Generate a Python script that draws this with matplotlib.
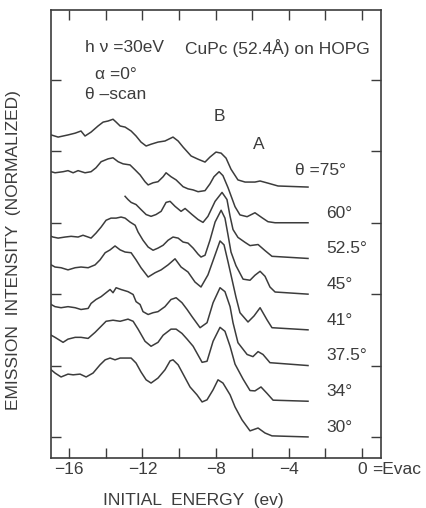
import matplotlib
matplotlib.use("Agg")
import matplotlib.pyplot as plt
from matplotlib.ticker import MultipleLocator, FixedLocator, NullFormatter

plt.rcParams['font.family'] = ['Liberation Sans', 'DejaVu Sans']

# Angle-resolved UPS spectra of CuPc on HOPG (theta scan), normalized intensities
angles = ["75", "60", "52.5", "45", "41", "37.5", "34", "30"]
offsets = [7, 6, 5, 4, 3, 2, 1, 0]

e75 = [-16.99, -16.61, -16.07, -15.68, -15.36, -15.14, -14.81, -14.43, -14.15, -13.88,
       -13.61, -13.44, -13.22, -12.95, -12.62, -12.35, -12.08, -11.80, -11.53, -11.15,
       -10.77, -10.33, -10.05, -9.78, -9.34, -8.96, -8.58, -8.31, -7.98, -7.70,
       -7.43, -7.16, -6.78, -6.39, -5.85, -5.57, -5.14, -4.59, -2.95]
i75 = [1.46, 1.40, 1.46, 1.51, 1.57, 1.43, 1.54, 1.71, 1.82, 1.85,
       1.90, 1.82, 1.71, 1.68, 1.57, 1.43, 1.26, 1.15, 1.20, 1.26,
       1.29, 1.40, 1.29, 1.12, 0.87, 0.78, 0.70, 0.84, 0.98, 0.95,
       0.81, 0.50, 0.20, 0.14, 0.14, 0.17, 0.11, 0.03, 0.00]

e60 = [-16.99, -16.78, -16.34, -16.07, -15.79, -15.52, -15.14, -14.81, -14.54, -14.26,
       -13.88, -13.61, -13.33, -13.06, -12.68, -12.40, -12.13, -11.86, -11.69, -11.42,
       -11.15, -10.87, -10.71, -10.44, -10.16, -9.78, -9.51, -9.23, -8.96, -8.58,
       -8.31, -8.09, -7.81, -7.60, -7.32, -6.94, -6.67, -6.28, -5.85, -5.46,
       -5.14, -4.75, -2.95]
i60 = [1.43, 1.40, 1.43, 1.46, 1.40, 1.46, 1.40, 1.43, 1.54, 1.71,
       1.79, 1.82, 1.71, 1.65, 1.62, 1.48, 1.34, 1.15, 1.06, 1.12,
       1.15, 1.29, 1.40, 1.29, 1.20, 1.01, 0.95, 0.92, 0.87, 0.90,
       1.09, 1.29, 1.43, 1.32, 0.98, 0.45, 0.22, 0.17, 0.28, 0.14,
       0.03, 0.00, 0.00]

e52 = [-12.95, -12.79, -12.62, -12.35, -12.08, -11.80, -11.53, -11.26, -10.98, -10.71,
       -10.49, -10.22, -9.89, -9.67, -9.29, -8.96, -8.69, -8.42, -8.03, -7.65,
       -7.38, -7.21, -7.05, -6.78, -6.39, -6.12, -5.68, -5.30, -4.92, -2.95]
i52 = [1.74, 1.65, 1.57, 1.51, 1.37, 1.23, 1.18, 1.23, 1.32, 1.57,
       1.60, 1.46, 1.32, 1.40, 1.23, 1.09, 1.01, 1.18, 1.60, 1.85,
       1.65, 1.18, 0.81, 0.59, 0.45, 0.36, 0.39, 0.22, 0.06, 0.00]

e45 = [-16.99, -16.89, -16.61, -16.23, -15.90, -15.52, -15.25, -14.97, -14.81, -14.54,
       -14.26, -13.99, -13.72, -13.44, -13.17, -12.95, -12.68, -12.40, -12.24, -11.97,
       -11.69, -11.42, -11.15, -10.87, -10.60, -10.33, -10.05, -9.78, -9.51, -9.23,
       -8.96, -8.80, -8.58, -8.31, -8.03, -7.70, -7.49, -7.32, -7.16, -6.89,
       -6.50, -6.12, -5.85, -5.57, -5.30, -5.03, -4.75, -2.95]
i45 = [1.62, 1.60, 1.57, 1.60, 1.62, 1.60, 1.65, 1.60, 1.57, 1.71,
       1.88, 2.07, 2.13, 2.13, 2.16, 2.13, 2.02, 1.93, 1.74, 1.51,
       1.32, 1.23, 1.29, 1.37, 1.51, 1.60, 1.57, 1.46, 1.43, 1.29,
       1.12, 1.04, 1.09, 1.51, 2.02, 2.35, 2.13, 1.65, 1.18, 0.80,
       0.42, 0.39, 0.53, 0.64, 0.50, 0.20, 0.06, 0.00]

e41 = [-16.99, -16.78, -16.45, -16.07, -15.68, -15.36, -14.97, -14.59, -14.32, -14.04,
       -13.77, -13.50, -13.22, -12.95, -12.62, -12.35, -12.08, -11.69, -11.31, -10.98,
       -10.60, -10.22, -9.89, -9.51, -9.13, -8.80, -8.42, -8.03, -7.76, -7.54,
       -7.32, -7.10, -6.89, -6.67, -6.23, -5.90, -5.57, -5.19, -4.92, -2.95]
i41 = [1.82, 1.76, 1.74, 1.68, 1.74, 1.76, 1.74, 1.82, 1.96, 2.16,
       2.24, 2.35, 2.24, 2.18, 2.16, 1.96, 1.74, 1.48, 1.60, 1.68,
       1.82, 1.99, 1.76, 1.62, 1.34, 1.20, 1.54, 2.10, 2.49, 2.38,
       1.90, 1.40, 0.92, 0.48, 0.22, 0.39, 0.62, 0.28, 0.06, 0.00]

e37 = [-16.99, -16.78, -16.45, -16.07, -15.68, -15.36, -14.97, -14.81, -14.54, -14.26,
       -13.99, -13.77, -13.61, -13.44, -13.17, -12.79, -12.51, -12.35, -12.13, -11.97,
       -11.69, -11.42, -11.15, -10.77, -10.44, -10.16, -9.84, -9.56, -9.29, -8.85,
       -8.47, -8.14, -7.76, -7.49, -7.21, -7.05, -6.78, -6.28, -5.96, -5.68,
       -5.41, -5.03, -2.95]
i37 = [1.71, 1.65, 1.62, 1.65, 1.62, 1.57, 1.60, 1.74, 1.85, 1.93,
       2.04, 2.13, 2.04, 2.18, 2.13, 2.07, 1.99, 1.79, 1.71, 1.51,
       1.43, 1.48, 1.51, 1.65, 1.85, 1.90, 1.76, 1.57, 1.37, 1.06,
       1.20, 1.76, 2.18, 2.07, 1.65, 1.20, 0.64, 0.31, 0.25, 0.39,
       0.31, 0.08, 0.00]

e34 = [-16.99, -16.78, -16.34, -16.07, -15.68, -15.36, -14.97, -14.59, -14.26, -13.99,
       -13.61, -13.22, -12.79, -12.51, -12.24, -11.86, -11.53, -11.15, -10.87, -10.44,
       -10.16, -9.84, -9.56, -9.23, -8.74, -8.47, -8.14, -7.76, -7.49, -7.21,
       -6.94, -6.50, -6.12, -5.85, -5.52, -5.19, -4.86, -2.95]
i34 = [1.85, 1.79, 1.65, 1.74, 1.79, 1.79, 1.76, 1.93, 2.10, 2.24,
       2.27, 2.24, 2.30, 2.24, 2.02, 1.68, 1.54, 1.65, 1.85, 2.02,
       2.02, 1.90, 1.74, 1.54, 1.09, 1.12, 1.68, 2.07, 1.96, 1.54,
       1.04, 0.62, 0.30, 0.29, 0.40, 0.22, 0.03, 0.00]

e30 = [-16.99, -16.78, -16.45, -16.07, -15.79, -15.41, -15.08, -14.70, -14.32, -14.04,
       -13.77, -13.50, -13.22, -12.95, -12.62, -12.35, -12.08, -11.80, -11.53, -11.15,
       -10.77, -10.49, -10.33, -10.05, -9.84, -9.40, -9.02, -8.74, -8.47, -8.14,
       -7.87, -7.60, -7.21, -6.94, -6.56, -6.12, -5.68, -5.30, -4.92, -2.95]
i30 = [1.88, 1.79, 1.68, 1.76, 1.74, 1.76, 1.68, 1.79, 2.02, 2.16,
       2.21, 2.16, 2.21, 2.21, 2.21, 2.07, 1.82, 1.60, 1.51, 1.65,
       1.88, 2.13, 2.16, 2.02, 1.82, 1.40, 1.18, 0.98, 1.04, 1.32,
       1.60, 1.51, 1.18, 0.84, 0.48, 0.17, 0.25, 0.11, 0.03, 0.00]

energies = [e75, e60, e52, e45, e41, e37, e34, e30]
intensities = [i75, i60, i52, i45, i41, i37, i34, i30]

x_ticks = [-16, -12, -8, -4, 0]
x_tick_labels = ["\u221216", "\u221212", "\u22128", "\u22124", "0"]

ink = "#3c3c3c"
fs = 12.5

fig = plt.figure(figsize=(4.27, 5.08), dpi=100)
ax = fig.add_axes([51 / 427, 1 - 458 / 508, 330 / 427, 448 / 508])

for e, inten, off in zip(energies, intensities, offsets):
    ax.plot(e, [v + off for v in inten], color=ink, lw=1.1, solid_joinstyle="round")

ax.set_xlim(-17.0, 1.04)
ax.set_ylim(-0.59, 11.96)

ax.xaxis.set_major_locator(FixedLocator(x_ticks))
ax.set_xticklabels(x_tick_labels)
ax.xaxis.set_minor_locator(FixedLocator([-14, -10, -6, -2]))
ax.xaxis.set_minor_formatter(NullFormatter())
ax.yaxis.set_major_locator(MultipleLocator(2))
ax.yaxis.set_major_formatter(NullFormatter())

ax.tick_params(axis="both", which="both", direction="in", length=7, width=1.0,
               color=ink, top=True, right=True, labelsize=fs, labelcolor=ink, pad=3)
for sp in ax.spines.values():
    sp.set_color(ink)
    sp.set_linewidth(1.2)

# annotations inside the panel
ax.text(-15.14, 10.9, "h \u03bd =30eV", fontsize=fs, color=ink, ha="left", va="center")
ax.text(-14.59, 10.14, "\u03b1 =0\u00b0", fontsize=fs, color=ink, ha="left", va="center")
ax.text(-15.14, 9.58, "\u03b8 \u2013scan", fontsize=fs, color=ink, ha="left", va="center")
ax.text(-9.67, 10.9, "CuPc (52.4\u00c5) on HOPG", fontsize=fs, color=ink, ha="left", va="center")
ax.text(-7.81, 8.99, "B", fontsize=fs, color=ink, ha="center", va="center")
ax.text(-5.63, 8.18, "A", fontsize=fs, color=ink, ha="center", va="center")

for k, (ang, off) in enumerate(zip(angles, offsets)):
    if k == 0:
        ax.text(-3.66, off + 0.47, "\u03b8 =" + ang + "\u00b0", fontsize=fs, color=ink,
                ha="left", va="center")
    else:
        ax.text(-1.95, off + 0.27, ang + "\u00b0", fontsize=fs, color=ink,
                ha="left", va="center")

ax.text(0.55, -0.0246, "=Evac", transform=ax.get_xaxis_transform(), fontsize=fs,
        color=ink, ha="left", va="center", clip_on=False)

fig.text(193 / 427, 1 - 500 / 508, "INITIAL  ENERGY  (ev)", fontsize=fs, color=ink,
         ha="center", va="center")
fig.text(14 / 427, 1 - 250 / 508, "EMISSION  INTENSITY  (NORMALIZED)", fontsize=fs,
         color=ink, ha="center", va="center", rotation=90)

fig.savefig("out.png", dpi=100, facecolor="white")
